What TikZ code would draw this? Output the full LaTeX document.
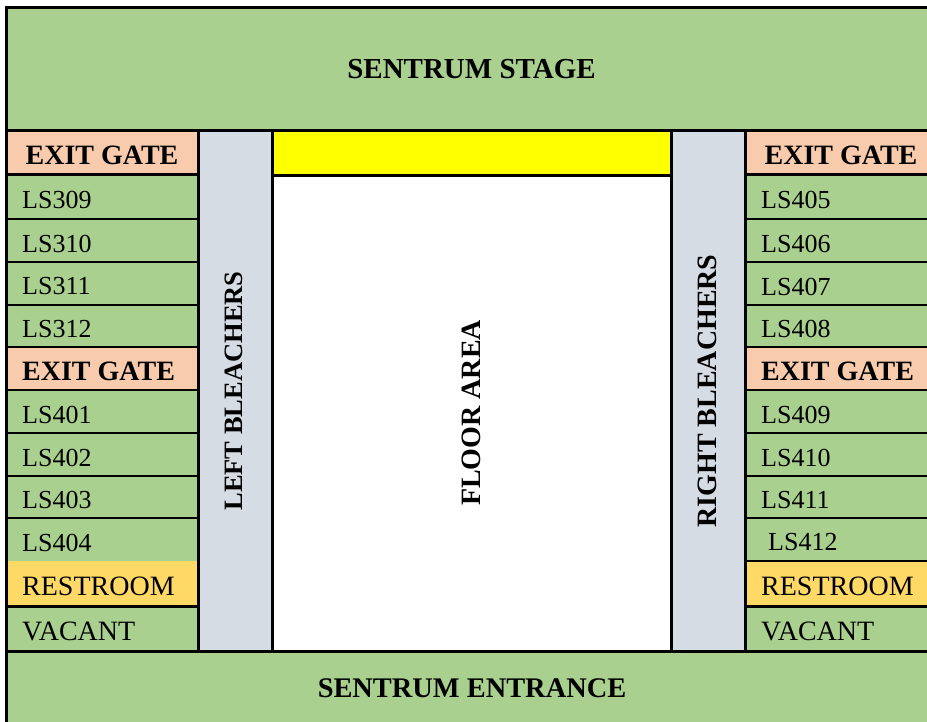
\documentclass[tikz,border=0pt]{standalone}
\usepackage{fontspec}
\setmainfont{Liberation Serif}
\usepackage{tikz}
\definecolor{seatgreen}{HTML}{A9D08E}
\definecolor{gatepeach}{HTML}{F8CBAD}
\definecolor{bleachgrey}{HTML}{D6DCE4}
\definecolor{restorange}{HTML}{FFD966}
\definecolor{stripyellow}{HTML}{FFFF00}

\begin{document}
\begin{tikzpicture}[x=1pt,y=-1pt,
  border/.style={line width=3pt},
  midrow/.style={line width=2pt},
  rowline/.style={line width=1.1pt},
  seat/.style={anchor=west,inner sep=0pt,font=\fontsize{26}{30}\selectfont},
  wideseat/.style={seat,font=\fontsize{28}{30}\selectfont},
  areatext/.style={inner sep=0pt,font=\bfseries\fontsize{28}{30}\selectfont}]
\useasboundingbox (0,0) rectangle (927,722);
%%% Draws filled areas
% stage, entrance and side columns
\fill[seatgreen] (6,8) rectangle (937,725);
\fill[gatepeach] (6,131) rectangle (198,175);
\fill[gatepeach] (6,347) rectangle (198,390);
\fill[restorange] (6,561) rectangle (198,606);
\fill[gatepeach] (745,131) rectangle (937,175);
\fill[gatepeach] (745,347) rectangle (937,390);
\fill[restorange] (745,561) rectangle (937,606);
% bleachers and floor
\fill[bleachgrey] (198,131) rectangle (272,651);
\fill[bleachgrey] (671,131) rectangle (745,651);
\fill[stripyellow] (272,131) rectangle (671,176);
\fill[white] (272,176) rectangle (671,651);
%%% Draws lines
% outer frame and main walls
\draw[border] (6,8) rectangle (937,725);
\draw[border] (6,131) to (937,131);
\draw[border] (6,651) to (937,651);
\draw[border] (198,131) to (198,651);
\draw[border] (272,131) to (272,651);
\draw[border] (671,131) to (671,651);
\draw[border] (745,131) to (745,651);
\draw[border] (272,176) to (671,176);
% left rows
\draw[border] (6,175) to (198,175);
\draw[rowline] (6,219) to (198,219);
\draw[rowline] (6,262) to (198,262);
\draw[midrow] (6,305) to (198,305);
\draw[rowline] (6,347) to (198,347);
\draw[rowline] (6,390) to (198,390);
\draw[midrow] (6,433) to (198,433);
\draw[rowline] (6,476) to (198,476);
\draw[rowline] (6,518) to (198,518);
\draw[border] (6,606) to (198,606);
% right rows
\draw[border] (745,175) to (937,175);
\draw[rowline] (745,219) to (937,219);
\draw[rowline] (745,262) to (937,262);
\draw[midrow] (745,305) to (937,305);
\draw[rowline] (745,347) to (937,347);
\draw[rowline] (745,390) to (937,390);
\draw[midrow] (745,433) to (937,433);
\draw[rowline] (745,476) to (937,476);
\draw[rowline] (745,518) to (937,518);
\draw[midrow] (745,561) to (937,561);
\draw[border] (745,606) to (937,606);
%%% Labels areas
\node[areatext,font=\bfseries\fontsize{29}{30}\selectfont] (stage) at (471.5,69) {SENTRUM STAGE};
\node[areatext,font=\bfseries\fontsize{28.4}{30}\selectfont] (entrance) at (472,688) {SENTRUM ENTRANCE};
\node[areatext,rotate=90] (floor) at (471,413) {FLOOR AREA};
\node[areatext,rotate=90,font=\bfseries\fontsize{26.5}{30}\selectfont] (leftbl) at (234,391) {LEFT BLEACHERS};
\node[areatext,rotate=90] (rightbl) at (707,391) {RIGHT BLEACHERS};
%%% Labels left column
\node[areatext] (lgatea) at (102,155) {EXIT GATE};
\node[seat] (ls309) at (22,200) {LS309};
\node[seat] (ls310) at (22,243.5) {LS310};
\node[seat] (ls311) at (22,286.5) {LS311};
\node[seat] (ls312) at (22,329) {LS312};
\node[areatext,anchor=west] (lgateb) at (22,371) {EXIT GATE};
\node[seat] (ls401) at (22,414.5) {LS401};
\node[seat] (ls402) at (22,457.5) {LS402};
\node[seat] (ls403) at (22,500) {LS403};
\node[seat] (ls404) at (22,542.5) {LS404};
\node[wideseat] (lrest) at (22,586.5) {RESTROOM};
\node[wideseat] (lvacant) at (22,631.5) {VACANT};
%%% Labels right column
\node[areatext] (rgatea) at (841,155) {EXIT GATE};
\node[seat] (ls405) at (761,200) {LS405};
\node[seat] (ls406) at (761,243.5) {LS406};
\node[seat] (ls407) at (761,286.5) {LS407};
\node[seat] (ls408) at (761,329) {LS408};
\node[areatext,anchor=west] (rgateb) at (761,371) {EXIT GATE};
\node[seat] (ls409) at (761,414.5) {LS409};
\node[seat] (ls410) at (761,457.5) {LS410};
\node[seat] (ls411) at (761,500) {LS411};
\node[seat] (ls412) at (768,542.5) {LS412};
\node[wideseat] (rrest) at (761,586.5) {RESTROOM};
\node[wideseat] (rvacant) at (761,631.5) {VACANT};
\end{tikzpicture}
\end{document}
